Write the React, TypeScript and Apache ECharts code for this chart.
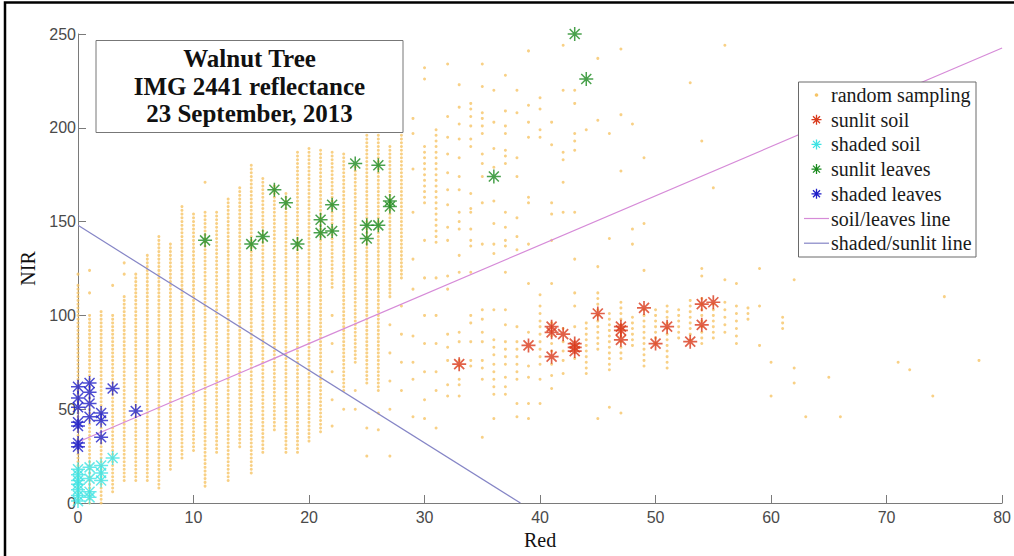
import React, { useEffect, useRef } from "react";
import * as echarts from "echarts";

// ---------- data ----------
// dense columns of the random sampling: [red, NIR from, NIR to, step]
const samplingRuns: [number, number, number, number][] = [
  [0, 0, 116, 2], [1, 0, 100, 2], [2, 0, 102, 2], [3, 6, 100, 2], [4, 12, 110, 2],
  [5, 12, 122, 2], [6, 12, 133, 2], [7, 8, 142, 2], [8, 18, 139, 2], [9, 24, 158, 2],
  [10, 28, 155, 2], [11, 9, 156, 2], [12, 27, 156, 2], [13, 12, 163, 2], [14, 30, 168, 2],
  [15, 16, 181, 2], [16, 27, 174, 2], [17, 39, 170, 2], [18, 27, 165, 2], [19, 27, 188, 2],
  [20, 33, 190, 2], [21, 38, 188, 2], [22, 115, 188, 2], [23, 60, 186, 2], [24, 75, 180, 2],
  [25, 64, 198, 2], [26, 60, 196, 2], [27, 110, 190, 2], [28, 120, 196, 2], [30, 160, 190, 3],
  [31, 139, 199, 3],
  [44, 69, 96, 3], [45, 82, 112, 3], [46, 71, 103, 3], [47, 77, 107, 3], [48, 84, 101, 3],
  [49, 73, 105, 3], [50, 85, 105, 3], [51, 72, 106, 3], [52, 88, 105, 3], [53, 87, 110, 3],
  [54, 85, 110, 3], [55, 88, 107, 3], [56, 91, 107, 4], [57, 85, 105, 4], [58, 98, 105, 3],
  [61, 93, 100, 3],
];

// isolated random sampling points: [red, NIR]
const samplingDots: [number, number][] = [
  [0, 122], [1, 112], [1, 124], [3, 116], [4, 128], [4, 122], [11, 171],
  [22, 100], [22, 85], [22, 70], [22, 55], [22, 41], [23, 50], [24, 60], [24, 50],
  [25, 40], [25, 25], [26, 48], [26, 39], [27, 95], [27, 80], [27, 65], [27, 50], [27, 25],
  [28, 105], [28, 90], [28, 75], [28, 60],
  [29, 205], [29, 197], [29, 178], [29, 155], [29, 130], [29, 114], [29, 89], [29, 75], [29, 66], [29, 46],
  [30, 232], [30, 226], [30, 140], [30, 120], [30, 100], [30, 85], [30, 70], [30, 55], [30, 45],
  [31, 120], [31, 100], [31, 85], [31, 70], [31, 60], [31, 40],
  [32, 234], [32, 206], [32, 195], [32, 186], [32, 176], [32, 167], [32, 159], [32, 147], [32, 140], [32, 121],
  [32, 114], [32, 90], [32, 83], [32, 76], [32, 63], [32, 57],
  [33, 223], [33, 211], [33, 202], [33, 194], [33, 184], [33, 174], [33, 167], [33, 155], [33, 150], [33, 146],
  [33, 132], [33, 123], [33, 91], [33, 86], [33, 76], [33, 73], [33, 66], [33, 63], [33, 57],
  [34, 213], [34, 210], [34, 206], [34, 201], [34, 194], [34, 190], [34, 165], [34, 157], [34, 155], [34, 146],
  [34, 140], [34, 137], [34, 123], [34, 100], [34, 96], [34, 86], [34, 76], [34, 73],
  [35, 234], [35, 222], [35, 208], [35, 205], [35, 201], [35, 197], [35, 186], [35, 181], [35, 174], [35, 160],
  [35, 138], [35, 103], [35, 98], [35, 91], [35, 86], [35, 76], [35, 72], [35, 66], [35, 35],
  [36, 220], [36, 203], [36, 189], [36, 179], [36, 161], [36, 149], [36, 138], [36, 133], [36, 103], [36, 87],
  [36, 83], [36, 79], [36, 74], [36, 70], [36, 66], [36, 62], [36, 58], [36, 45],
  [37, 228], [37, 209], [37, 201], [37, 197], [37, 188], [37, 185], [37, 181], [37, 155], [37, 147], [37, 140],
  [37, 137], [37, 123], [37, 103], [37, 95], [37, 86], [37, 82], [37, 78], [37, 74], [37, 67], [37, 62], [37, 58],
  [38, 220], [38, 208], [38, 184], [38, 174], [38, 152], [38, 142], [38, 135], [38, 94], [38, 86], [38, 82],
  [38, 78], [38, 74], [38, 70], [38, 66], [38, 53], [38, 46],
  [39, 241], [39, 212], [39, 203], [39, 195], [39, 163], [39, 160], [39, 138], [39, 117], [39, 91], [39, 73],
  [39, 67], [39, 53], [39, 45],
  [40, 216], [40, 210], [40, 199], [40, 195], [40, 111], [40, 105], [40, 101], [40, 97], [40, 94], [40, 90],
  [40, 86], [40, 82], [40, 78], [40, 74], [40, 66], [40, 53],
  [41, 203], [41, 191], [41, 160], [41, 154], [41, 140], [41, 117], [41, 96], [41, 89], [41, 85], [41, 81],
  [41, 74], [41, 68], [41, 61],
  [42, 244], [42, 220], [42, 187], [42, 183], [42, 171], [42, 155], [42, 93], [42, 86], [42, 81], [42, 76], [42, 69],
  [43, 220], [43, 213], [43, 197], [43, 193], [43, 188], [43, 155], [43, 130], [43, 112], [43, 105], [43, 94], [43, 77],
  [44, 199], [45, 237], [45, 204], [45, 126], [45, 45], [46, 197], [46, 141], [46, 51],
  [47, 242], [47, 207], [47, 177], [47, 48], [48, 202], [48, 146], [48, 138],
  [49, 184], [49, 149], [49, 124], [53, 224], [54, 193], [54, 125], [54, 121],
  [55, 168], [56, 244], [56, 119], [57, 117], [59, 125], [59, 105], [59, 84],
  [60, 75], [60, 57], [62, 119], [62, 72], [62, 64], [63, 46], [65, 67], [66, 46],
  [71, 75], [72, 71], [74, 57], [75, 110], [78, 76],
];

const sunlitSoil: [number, number][] = [
  [33, 74], [39, 84], [41, 94], [41, 91], [41, 78], [42, 90], [43, 85], [43, 83], [43, 81],
  [45, 101], [47, 94], [47, 92], [47, 87], [49, 104], [50, 85], [51, 94], [53, 86],
  [54, 106], [54, 95], [55, 107],
];
const shadedSoil: [number, number][] = [
  [0, 18], [0, 15], [0, 12], [0, 10], [0, 7], [0, 4], [0, 1], [1, 19], [1, 13], [1, 6], [1, 3],
  [2, 20], [2, 16], [2, 12], [3, 24],
];
const sunlitLeaves: [number, number][] = [
  [11, 140], [15, 138], [16, 142], [17, 167], [18, 160], [19, 138], [21, 151], [21, 144],
  [22, 159], [22, 145], [24, 181], [25, 148], [25, 141], [26, 180], [26, 148], [27, 161],
  [27, 158], [36, 174], [43, 250], [44, 226],
];
const shadedLeaves: [number, number][] = [
  [0, 62], [0, 56], [0, 51], [0, 43], [0, 41], [0, 32], [0, 30], [1, 64], [1, 59], [1, 53],
  [1, 46], [2, 48], [2, 44], [2, 35], [3, 61], [5, 49],
];
const soilLeavesLine: [number, number][] = [[0, 32.5], [80, 242.5]];
const shadedSunlitLine: [number, number][] = [[0, 148], [38.3, 0]];

const xTicks = [0, 10, 20, 30, 40, 50, 60, 70, 80];
const yTicks = [0, 50, 100, 150, 200, 250];
const titleLines = ["Walnut Tree", "IMG 2441 reflectance", "23 September, 2013"];
const legendNames = [
  "random sampling", "sunlit soil", "shaded soil", "sunlit leaves", "shaded leaves",
  "soil/leaves line", "shaded/sunlit line",
];

// ---------- styles ----------
const C_SAMPLE = "#f6c466";
const C_SUNSOIL = "#d93a1c";
const C_SHSOIL = "#3fe3e3";
const C_SUNLEAF = "#1b8a1f";
const C_SHLEAF = "#1f1fc8";
const C_SL = "#d68bd8";
const C_SS = "#8585c6";
const ASTERISK = "path://M7 0L7 14M0 7L14 7M2 2L12 12M2 12L12 2";

echarts.graphic.registerShape(
  "asterisk",
  echarts.graphic.extendPath("M5 0L5 10M0 5L10 5M1.5 1.5L8.5 8.5M1.5 8.5L8.5 1.5", {})
);

const samplingData: [number, number][] = [
  ...samplingRuns.flatMap(([x, lo, hi, step]) => {
    const pts: [number, number][] = [];
    for (let y = lo; y <= hi; y += step) pts.push([x, y]);
    return pts;
  }),
  ...samplingDots,
];

function starSeries(name: string, data: [number, number][], color: string, w: number) {
  return {
    name,
    type: "scatter",
    data,
    symbol: ASTERISK,
    symbolSize: 14,
    itemStyle: { color: "rgba(0,0,0,0)", borderColor: color, borderWidth: w },
    silent: true,
    z: 5,
  };
}

export default function App() {
  const ref = useRef<HTMLDivElement>(null);
  useEffect(() => {
    if (!ref.current) return;
    const chart = echarts.init(ref.current, null, { renderer: "svg" });
    const serif = "'Liberation Serif', 'Times New Roman', serif";
    const legendItems: any[] = [];
    const markerColors = [C_SAMPLE, C_SUNSOIL, C_SHSOIL, C_SUNLEAF, C_SHLEAF, C_SL, C_SS];
    legendNames.forEach((name, i) => {
      const cy = 95 + 24.7 * i;
      if (i === 0) {
        legendItems.push({ type: "circle", shape: { cx: 816.5, cy, r: 1.8 }, style: { fill: C_SAMPLE }, z: 101 });
      } else if (i <= 4) {
        legendItems.push({
          type: "asterisk", x: 811.5, y: cy - 5,
          style: { fill: "none", stroke: markerColors[i], lineWidth: 1.3 }, z: 101,
        });
      } else {
        legendItems.push({
          type: "line", shape: { x1: 804, y1: cy, x2: 829, y2: cy },
          style: { stroke: markerColors[i], lineWidth: 1.2 }, z: 101,
        });
      }
      legendItems.push({
        type: "text", x: 831, y: cy,
        style: { text: name, font: `20px ${serif}`, fill: "#1a1a1a", verticalAlign: "middle", align: "left" },
        z: 101,
      });
    });

    chart.setOption({
      animation: false,
      backgroundColor: "#ffffff",
      grid: { left: 78, right: 8, top: 34, bottom: 53 },
      xAxis: {
        type: "value", min: 0, max: 80, interval: 10,
        name: "Red", nameLocation: "middle", nameGap: 16,
        nameTextStyle: { fontFamily: "Liberation Serif", fontSize: 20, color: "#111" },
        axisLine: { show: true, lineStyle: { color: "#7a7a7a", width: 1 } },
        axisTick: { show: true, inside: true, length: 8, lineStyle: { color: "#7a7a7a" } },
        axisLabel: {
          fontFamily: "Liberation Sans", fontSize: 16, color: "#4a4a4a", margin: 6,
          formatter: (v: number) => (xTicks.includes(v) ? String(v) : ""),
        },
        splitLine: { show: false },
      },
      yAxis: {
        type: "value", min: 0, max: 250, interval: 50,
        name: "NIR", nameLocation: "middle", nameGap: 28,
        nameTextStyle: { fontFamily: "Liberation Serif", fontSize: 20, color: "#111" },
        axisLine: { show: true, lineStyle: { color: "#7a7a7a", width: 1 } },
        axisTick: { show: true, inside: true, length: 8, lineStyle: { color: "#7a7a7a" } },
        axisLabel: {
          fontFamily: "Liberation Sans", fontSize: 16, color: "#4a4a4a", margin: 2,
          formatter: (v: number) => (yTicks.includes(v) ? String(v) : ""),
        },
        splitLine: { show: false },
      },
      series: [
        {
          name: "random sampling", type: "scatter", data: samplingData, symbol: "circle",
          symbolSize: 3, large: false, itemStyle: { color: C_SAMPLE }, silent: true, z: 2,
        },
        {
          name: "soil/leaves line", type: "line", data: soilLeavesLine, symbol: "none",
          lineStyle: { color: C_SL, width: 1.2 }, silent: true, z: 3,
        },
        {
          name: "shaded/sunlit line", type: "line", data: shadedSunlitLine, symbol: "none",
          lineStyle: { color: C_SS, width: 1.2 }, silent: true, z: 3,
        },
        starSeries("sunlit soil", sunlitSoil, C_SUNSOIL, 1.7),
        starSeries("shaded soil", shadedSoil, C_SHSOIL, 1.5),
        starSeries("sunlit leaves", sunlitLeaves, C_SUNLEAF, 1.5),
        starSeries("shaded leaves", shadedLeaves, C_SHLEAF, 1.5),
      ],
      graphic: [
        {
          type: "rect", shape: { x: 5, y: 2.5, width: 1100, height: 700 },
          style: { fill: "none", stroke: "#000", lineWidth: 2.5 }, silent: true, z: 100,
        },
        {
          type: "rect", shape: { x: 96, y: 40.5, width: 307, height: 92 },
          style: { fill: "#fff", stroke: "#777", lineWidth: 1 }, z: 100,
        },
        ...titleLines.map((t, i) => ({
          type: "text", x: 249.5, y: 58.5 + 27.5 * i,
          style: {
            text: t, font: `bold 25px ${serif}`, fill: "#111",
            align: "center", verticalAlign: "middle",
          },
          z: 101,
        })),
        {
          type: "rect", shape: { x: 798.5, y: 82, width: 177.5, height: 175 },
          style: { fill: "#fff", stroke: "#6a6a6a", lineWidth: 1 }, z: 100,
        },
        ...legendItems,
      ],
    });
    return () => chart.dispose();
  }, []);
  return (
    <div
      ref={ref}
      style={{ position: "absolute", left: 0, top: 0, width: 1014, height: 556 }}
    />
  );
}
